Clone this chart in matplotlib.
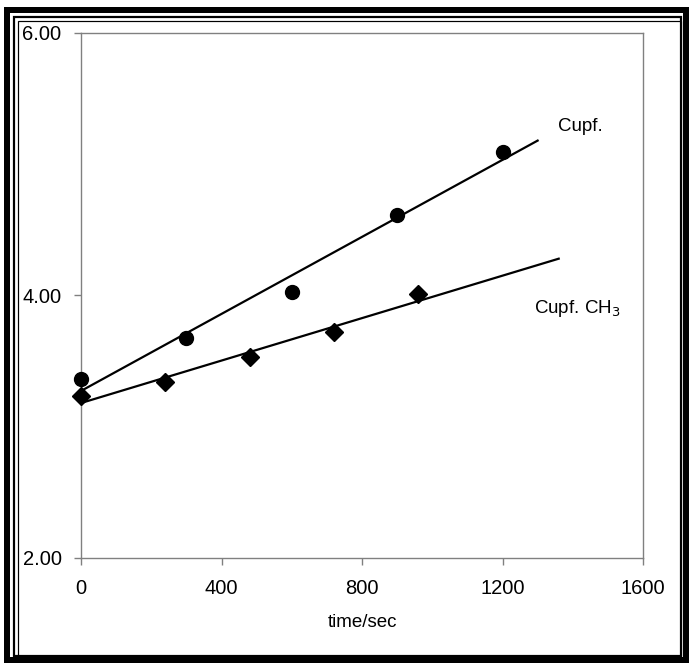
import numpy as np
import matplotlib
matplotlib.use("Agg")
import matplotlib.pyplot as plt
from matplotlib.patches import Rectangle

plt.rcParams['font.family'] = ['Liberation Sans', 'DejaVu Sans']

# Measured series
cupf_t = [0, 300, 600, 900, 1200]
cupf_y = [3.36, 3.67, 4.02, 4.61, 5.09]
cupf_ch3_t = [0, 240, 480, 720, 960]
cupf_ch3_y = [3.23, 3.34, 3.53, 3.72, 4.01]

# Trend-line extents (seconds)
cupf_fit_end = 1300
cupf_ch3_fit_end = 1360

x_ticks = [0, 400, 800, 1200, 1600]
y_ticks = [2.0, 4.0, 6.0]
y_tick_labels = ["2.00", "4.00", "6.00"]

W, H = 689, 663
fig = plt.figure(figsize=(W / 100, H / 100), dpi=100)

# Double frame around the chart (figure pixel coordinates)
def frame(x0, y0, x1, y1, lw):
    fig.add_artist(Rectangle((x0 / W, 1 - y1 / H), (x1 - x0) / W, (y1 - y0) / H,
                             transform=fig.transFigure, fill=False,
                             edgecolor='black', linewidth=lw * 0.72))

frame(7, 10, 686, 660, 6)
frame(14.3, 17, 680.8, 655.5, 2.2)
frame(17.8, 20.5, 680.8, 655.5, 1.2)

ax = fig.add_axes([81 / W, 1 - 557.7 / H, (643 - 81) / W, (557.7 - 32.5) / H])

gray = '#808080'
for s in ax.spines.values():
    s.set_color(gray)
    s.set_linewidth(1.0)

# Least-squares trend lines
for t, y, t_end in [(cupf_t, cupf_y, cupf_fit_end),
                    (cupf_ch3_t, cupf_ch3_y, cupf_ch3_fit_end)]:
    k, b = np.polyfit(t, y, 1)
    tt = np.array([0, t_end])
    ax.plot(tt, k * tt + b, color='black', linewidth=1.6, zorder=2)

ax.plot(cupf_t, cupf_y, 'o', color='black', markersize=10, zorder=3, clip_on=False)
ax.plot(cupf_ch3_t, cupf_ch3_y, 'D', color='black', markersize=9, zorder=3, clip_on=False)

ax.set_xlim(0, 1600)
ax.set_ylim(2, 6)
ax.set_xticks(x_ticks)
ax.set_xticklabels([str(v) for v in x_ticks])
ax.set_yticks(y_ticks)
ax.set_yticklabels(y_tick_labels)
ax.tick_params(axis='both', direction='out', length=5, width=1.0, color=gray,
               labelsize=14.5, labelcolor='black')
ax.tick_params(axis='x', pad=10)
ax.tick_params(axis='y', pad=9)

ax.set_xlabel("time/sec", fontsize=13.5, labelpad=12)

ax.text(1358, 5.247, "Cupf.", fontsize=13.5, ha='left', va='baseline')
ax.text(1290, 3.867, r"Cupf. CH$_3$", fontsize=13.5, ha='left', va='baseline')

fig.savefig("out.png", dpi=100)
